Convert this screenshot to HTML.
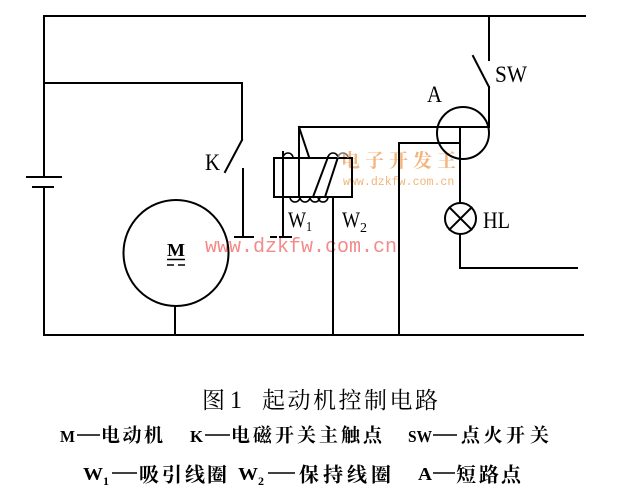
<!DOCTYPE html>
<html><head><meta charset="utf-8"><style>
html,body{margin:0;padding:0;background:#fff;}
svg{display:block;}
</style></head><body>
<svg width="620" height="496" viewBox="0 0 620 496" xmlns="http://www.w3.org/2000/svg">
<rect width="620" height="496" fill="#fff"/>
<!-- watermarks -->
<g font-family="Liberation Mono, monospace">
<text x="205" y="252" font-size="20" fill="#f48a8a">www.dzkfw.com.cn</text>
<text x="343" y="185" font-size="11.6" fill="#f1b57a">www.dzkfw.com.cn</text>
</g>
<text x="341 365 389 413 437" y="167" font-size="19" font-weight="bold" fill="#f4b47e" font-family="Noto Serif CJK SC, serif">电子开发王</text>

<g stroke="#000" stroke-width="2" fill="none" stroke-linecap="square">
<!-- top line -->
<line x1="44" y1="16" x2="585" y2="16"/>
<!-- left / battery -->
<line x1="44" y1="16" x2="44" y2="177"/>
<line x1="27" y1="177" x2="61" y2="177"/>
<line x1="33" y1="187" x2="53" y2="187"/>
<line x1="44" y1="187" x2="44" y2="335"/>
<!-- bottom line -->
<line x1="44" y1="335" x2="583" y2="335"/>
<!-- K switch -->
<line x1="44" y1="83" x2="242" y2="83"/>
<line x1="242" y1="83" x2="242" y2="140"/>
<line x1="242" y1="140" x2="225" y2="172"/>
<line x1="243" y1="169" x2="243" y2="237"/>
<line x1="235" y1="237" x2="253" y2="237"/>
<line x1="271" y1="237" x2="276" y2="237"/>
<line x1="280" y1="237" x2="291" y2="237"/>
<!-- motor -->
<ellipse cx="176" cy="253" rx="52.5" ry="53"/>
<line x1="175" y1="306" x2="175" y2="335"/>
<!-- coil -->
<rect x="274" y="158" width="78" height="39"/>
<line x1="283" y1="152" x2="283" y2="237"/>
<line x1="299" y1="127" x2="299" y2="197"/>
<line x1="299" y1="127" x2="309" y2="157"/>
<line x1="313" y1="197" x2="328" y2="157"/>
<line x1="325" y1="197" x2="338" y2="157"/>
<line x1="333" y1="197" x2="333" y2="335"/>
</g>
<g stroke="#000" stroke-width="1.6" fill="none">
<path d="M283 158 A5 5 0 0 1 293 158"/>
<path d="M328 158 A5 5 0 0 1 338 158"/>
<path d="M338 158 A5 5 0 0 1 348 158" stroke="#777"/>
<path d="M290 197 A5 5 0 0 0 300 197"/>
<path d="M300 197 A5 5 0 0 0 310 197"/>
<path d="M310 197 A5 5 0 0 0 320 197"/>
<path d="M318 197 A5 5 0 0 0 328 197"/>
</g>
<g stroke="#000" stroke-width="2" fill="none" stroke-linecap="square">
<!-- top lead to A -->
<line x1="299" y1="127" x2="489" y2="127"/>
<circle cx="463" cy="133" r="26"/>
<line x1="460" y1="127" x2="460" y2="203"/>
<line x1="399" y1="143" x2="460" y2="143"/>
<line x1="399" y1="143" x2="399" y2="335"/>
<!-- SW -->
<line x1="489" y1="16" x2="489" y2="60"/>
<line x1="473" y1="56" x2="489" y2="87"/>
<line x1="489" y1="87" x2="489" y2="127"/>
<!-- lamp -->
<circle cx="460.5" cy="218.5" r="15.5"/>
<line x1="449.5" y1="207.5" x2="471.5" y2="229.5"/>
<line x1="471.5" y1="207.5" x2="449.5" y2="229.5"/>
<line x1="460" y1="234" x2="460" y2="268"/>
<line x1="460" y1="268" x2="577" y2="268"/>
</g>
<!-- motor label -->
<text x="167" y="256" font-size="18" font-weight="bold" font-family="Liberation Serif, serif" textLength="18" lengthAdjust="spacingAndGlyphs">M</text>
<g stroke="#000" stroke-width="1.5">
<line x1="167" y1="259.5" x2="185" y2="259.5"/>
<line x1="167" y1="265" x2="174" y2="265"/>
<line x1="178" y1="265" x2="185" y2="265"/>
</g>
<!-- diagram labels -->
<g font-family="Liberation Serif, serif" font-size="23" fill="#000">
<text x="205" y="170" textLength="15" lengthAdjust="spacingAndGlyphs">K</text>
<text x="495" y="82" textLength="32" lengthAdjust="spacingAndGlyphs">SW</text>
<text x="427" y="102" textLength="15" lengthAdjust="spacingAndGlyphs">A</text>
<text x="483" y="228" textLength="27" lengthAdjust="spacingAndGlyphs">HL</text>
<text x="288" y="227" font-size="22" textLength="18" lengthAdjust="spacingAndGlyphs">W</text>
<text x="306" y="231" font-size="14" textLength="6" lengthAdjust="spacingAndGlyphs">1</text>
<text x="342" y="227" font-size="22" textLength="18" lengthAdjust="spacingAndGlyphs">W</text>
<text x="360" y="232" font-size="14" textLength="7" lengthAdjust="spacingAndGlyphs">2</text>
</g>
<!-- caption -->
<g font-family="Noto Serif CJK SC, serif" fill="#000">
<text x="202" y="408" font-size="23">图</text>
<text x="230" y="408" font-size="25" font-family="Liberation Serif, serif" textLength="12" lengthAdjust="spacingAndGlyphs">1</text>
<text x="262 287.5 313 338.5 364 389.5 415" y="408" font-size="23">起动机控制电路</text>
</g>
<g font-family="Noto Serif CJK SC, serif" font-weight="bold" fill="#000">
<text x="60" y="442" font-size="17" font-family="Liberation Serif, serif" textLength="15" lengthAdjust="spacingAndGlyphs">M</text>
<text x="101 122.5 144" y="441.5" font-size="19">电动机</text>
<text x="190" y="442" font-size="17" font-family="Liberation Serif, serif" textLength="13" lengthAdjust="spacingAndGlyphs">K</text>
<text x="231 253 275 297 319 341 363" y="441.5" font-size="19">电磁开关主触点</text>
<text x="408" y="442" font-size="17" font-family="Liberation Serif, serif" textLength="24" lengthAdjust="spacingAndGlyphs">SW</text>
<text x="461 483.5 506 530" y="441.5" font-size="19">点火开关</text>

<text x="83" y="480" font-size="18" font-family="Liberation Serif, serif" textLength="20" lengthAdjust="spacingAndGlyphs">W</text>
<text x="103" y="485" font-size="12" font-family="Liberation Serif, serif">1</text>
<text x="139 162 185 207" y="481.5" font-size="20">吸引线圈</text>
<text x="238" y="480" font-size="18" font-family="Liberation Serif, serif" textLength="20" lengthAdjust="spacingAndGlyphs">W</text>
<text x="258" y="485" font-size="12" font-family="Liberation Serif, serif">2</text>
<text x="299 323 347 371" y="481.5" font-size="20">保持线圈</text>
<text x="418" y="480" font-size="18" font-family="Liberation Serif, serif" textLength="14" lengthAdjust="spacingAndGlyphs">A</text>
<text x="456 479 501" y="481.5" font-size="20">短路点</text>
</g>
<g stroke="#000" stroke-width="1.6">
<line x1="77" y1="435" x2="100" y2="435"/>
<line x1="205" y1="435" x2="230" y2="435"/>
<line x1="433" y1="435" x2="457" y2="435"/>
<line x1="112" y1="473" x2="137" y2="473"/>
<line x1="268" y1="473" x2="295" y2="473"/>
<line x1="433" y1="473" x2="455" y2="473"/>
</g>
</svg>
</body></html>
